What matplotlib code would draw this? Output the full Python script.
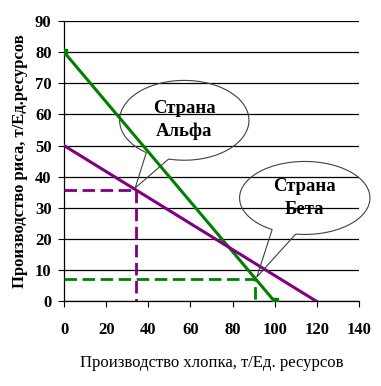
import numpy as np
from matplotlib import pyplot as plt
from matplotlib.path import Path
from matplotlib.patches import PathPatch
from matplotlib.ticker import MultipleLocator

plt.rcParams["font.family"] = ["Liberation Serif", "DejaVu Serif"]

# production possibility frontiers (cotton, rice)
alpha_x = [0, 100]
alpha_y = [80, 0]
beta_x = [0, 120]
beta_y = [50, 0]

# chosen production points
alpha_point = (34, 35.6)   # purple dashed guides
beta_point = (90.5, 7.2)   # green dashed guides

GREEN = "#008000"
PURPLE = "#800080"


def callout(ax, text, center, width, height, t1, t2, tip):
    """Unfilled elliptical speech bubble with a tail pointing at tip."""
    cx, cy = center
    a, b = width / 2, height / 2
    ts = np.radians(np.linspace(t2, t1 + 360, 120))
    verts = [(cx + a * np.cos(t), cy + b * np.sin(t)) for t in ts]
    verts.append(tip)
    verts.append(verts[0])
    codes = [Path.MOVETO] + [Path.LINETO] * (len(verts) - 1)
    patch = PathPatch(Path(verts, codes), facecolor="none", edgecolor="#404040",
                      linewidth=0.8, zorder=6, clip_on=False)
    ax.add_patch(patch)
    ax.text(cx, cy, text, ha="center", va="center", fontsize=13.5,
            fontweight="bold", linespacing=1.4, zorder=7)


fig = plt.figure(figsize=(3.81, 3.86), dpi=100)
ax = fig.add_axes([0.168, 0.219, 0.774, 0.727])

ax.plot(alpha_x, alpha_y, color=GREEN, linewidth=2.2, marker="s",
        markersize=4.5, zorder=4)
ax.plot(beta_x, beta_y, color=PURPLE, linewidth=2.2, zorder=4)

ax.plot([0, alpha_point[0], alpha_point[0]], [alpha_point[1], alpha_point[1], 0],
        color=PURPLE, linewidth=2, dashes=(4.5, 2), zorder=3)
ax.plot([0, beta_point[0], beta_point[0]], [beta_point[1], beta_point[1], 0],
        color=GREEN, linewidth=2, dashes=(4.5, 2), zorder=3)

ax.set_xlim(0, 140)
ax.set_ylim(0, 90)
ax.xaxis.set_major_locator(MultipleLocator(20))
ax.yaxis.set_major_locator(MultipleLocator(10))
ax.yaxis.grid(True, color="black", linewidth=0.9)
ax.set_axisbelow(True)
for side in ["top", "right"]:
    ax.spines[side].set_visible(False)
for side in ["left", "bottom"]:
    ax.spines[side].set_linewidth(0.9)

ax.tick_params(axis="x", length=4, pad=11, labelsize=12, direction="out")
ax.tick_params(axis="y", length=4, pad=5, labelsize=12, direction="out")
for lbl in ax.get_xticklabels() + ax.get_yticklabels():
    lbl.set_fontweight("bold")

ax.set_xlabel("Производство хлопка, т/Ед. ресурсов", fontsize=12, labelpad=12)
ax.set_ylabel("Производство риса, т/Ед.ресурсов", fontsize=12,
              fontweight="bold", labelpad=5)

callout(ax, "Страна\nАльфа", (57.1, 58.1), 61.4, 25.6, 234, 256, (33.8, 36.4))
callout(ax, "Страна\nБета", (114.3, 33.2), 61.9, 23.4, 240, 262, (91.5, 7.8))

plt.savefig("out.png", dpi=100)
